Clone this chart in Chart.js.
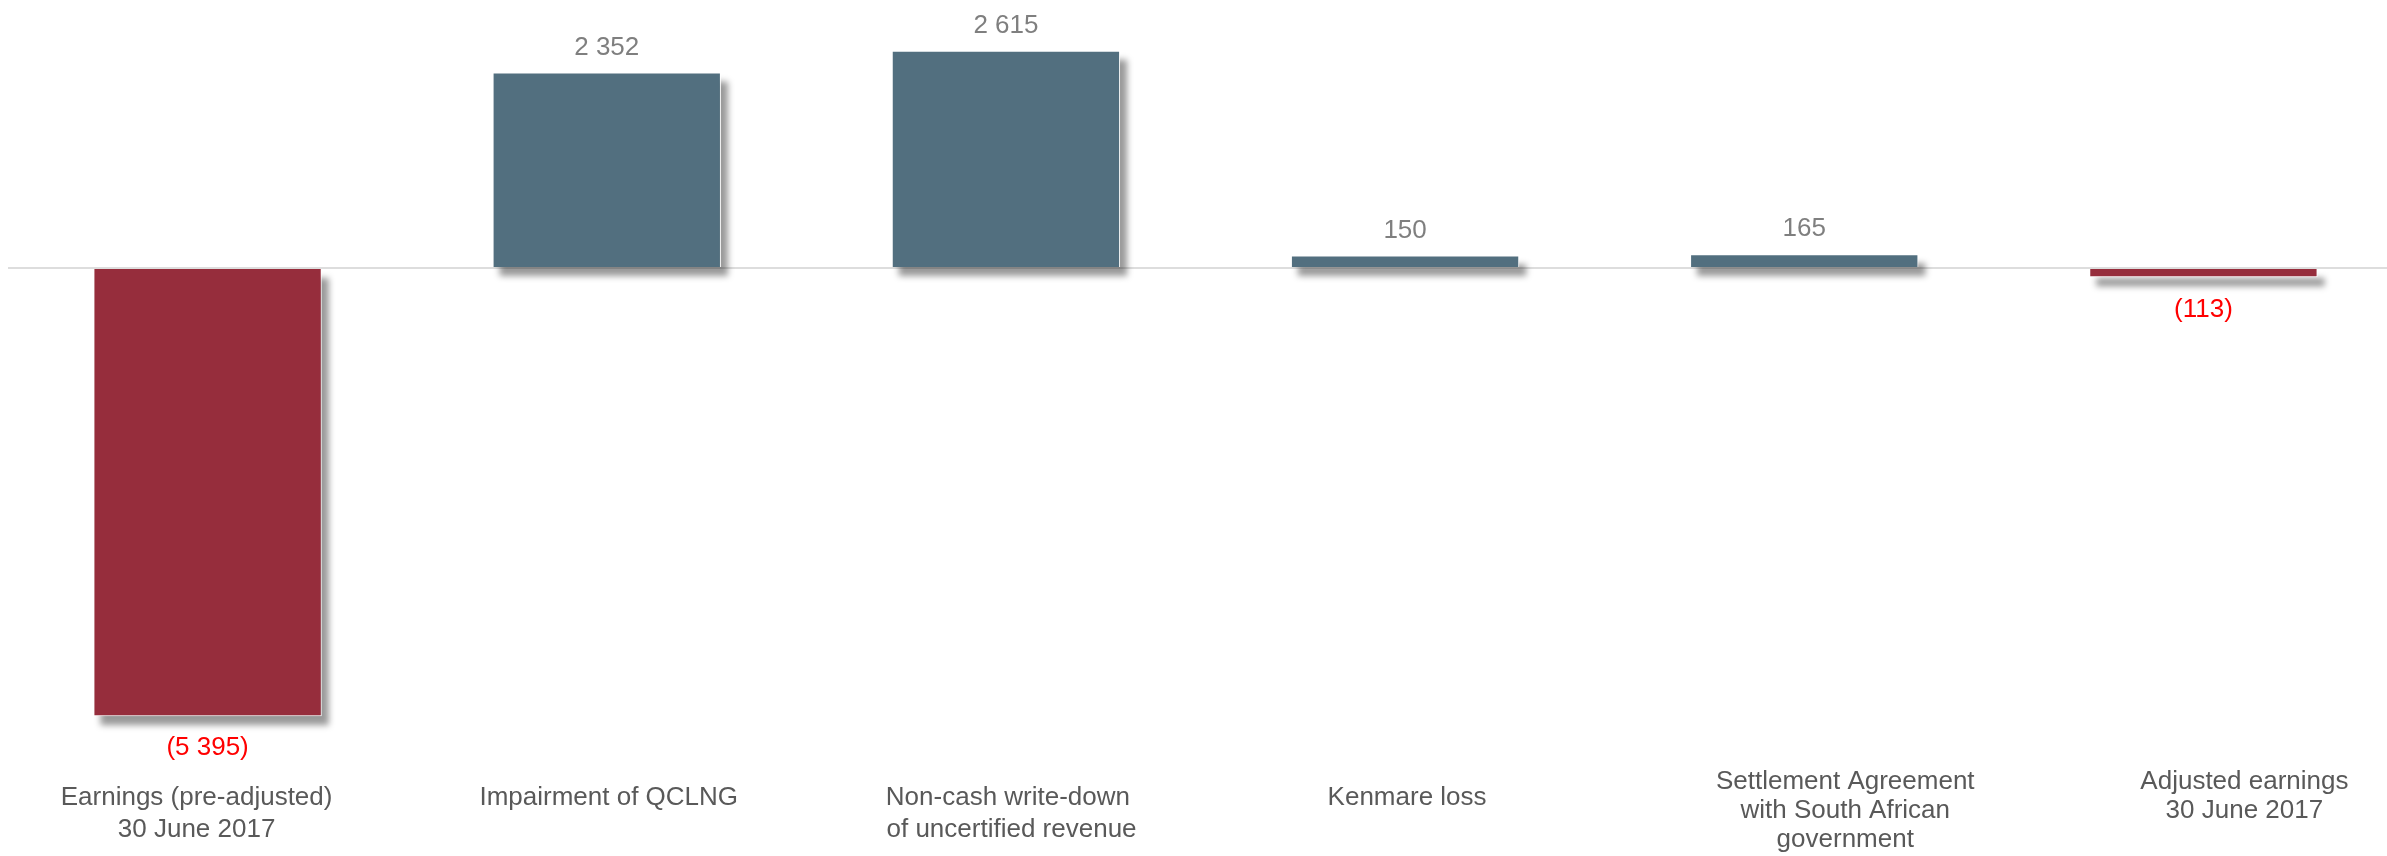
<!DOCTYPE html>
<html>
<head>
<meta charset="utf-8">
<script src="https://cdn.jsdelivr.net/npm/chart.js@4"></script>
<style>
  html, body { margin: 0; padding: 0; background: #fff; overflow: hidden; }
  #wrap { width: 2387px; height: 856px; overflow: hidden; }
</style>
</head>
<body>
<div id="wrap"><canvas id="myChart" width="2403" height="856"></canvas></div>
<script>
const categories = [
  ['Earnings (pre-adjusted)', '30 June 2017'],
  ['Impairment of QCLNG'],
  ['Non-cash write-down', ' of uncertified revenue'],
  ['Kenmare loss'],
  ['Settlement Agreement', 'with South African', 'government'],
  ['Adjusted earnings', '30 June 2017']
];
const values = [-5395, 2352, 2615, 150, 165, -113];
const barColors = ['#962d3c', '#526f7f', '#526f7f', '#526f7f', '#526f7f', '#962d3c'];

const fontFamily = '"Liberation Sans", Arial, sans-serif';

function fmt(v) {
  const s = Math.abs(v).toString().replace(/\B(?=(\d{3})+(?!\d))/g, ' ');
  return v < 0 ? '(' + s + ')' : s;
}

// bar shadows drawn under the bars
const shadowPlugin = {
  id: 'shadows',
  beforeDatasetsDraw(chart) {
    const ctx = chart.ctx;
    ctx.save();
    ctx.filter = 'blur(3px)';
    ctx.fillStyle = 'rgba(0,0,0,0.4)';
    chart.getDatasetMeta(0).data.forEach(bar => {
      const p = bar.getProps(['x', 'y', 'base', 'width'], true);
      const top = Math.min(p.y, p.base);
      const h = Math.abs(p.base - p.y);
      ctx.fillRect(p.x - p.width / 2 + 7, top + 9, p.width, h);
    });
    ctx.restore();
  }
};

// value labels above / below the bars
const valueLabels = {
  id: 'valueLabels',
  afterDatasetsDraw(chart) {
    const ctx = chart.ctx;
    ctx.save();
    ctx.font = '26px ' + fontFamily;
    ctx.textAlign = 'center';
    ctx.textBaseline = 'middle';
    chart.getDatasetMeta(0).data.forEach((bar, i) => {
      const v = values[i];
      if (v >= 0) {
        ctx.fillStyle = '#7f7f7f';
        ctx.fillText(fmt(v), bar.x, bar.y - 25);
      } else {
        ctx.fillStyle = '#ff0000';
        ctx.fillText(fmt(v), bar.x, bar.y + 32);
      }
    });
    ctx.restore();
  }
};

// category label axes; mirrored so they are not clipped to a zero-height box
function labelAxis(show, offset, pad, lh) {
  return {
    type: 'category',
    position: 'bottom',
    grid: { display: false, drawTicks: false },
    border: { display: false },
    afterFit(scale) { scale.height = 0; },
    ticks: {
      autoSkip: false,
      maxRotation: 0,
      minRotation: 0,
      mirror: true,
      labelOffset: offset,
      padding: pad,
      color: '#595959',
      font: { family: fontFamily, size: 26, lineHeight: lh },
      callback: function (v, i) {
        return show.includes(i) ? this.getLabelForValue(v) : '';
      }
    }
  };
}

const ctx = document.getElementById('myChart');

new Chart(ctx, {
  type: 'bar',
  data: {
    labels: categories,
    datasets: [{
      data: values,
      backgroundColor: barColors,
      borderColor: '#ffffff',
      borderWidth: 1,
      categoryPercentage: 1,
      barPercentage: 0.572
    }]
  },
  options: {
    responsive: false,
    animation: false,
    devicePixelRatio: 1,
    layout: { padding: { left: 8, right: 0, top: 0, bottom: 80 } },
    plugins: {
      legend: { display: false },
      tooltip: { enabled: false }
    },
    scales: {
      x: labelAxis([1, 2, 3], 2, -38, 1.22),
      x0: labelAxis([0], -11, -38, 1.22),
      x2: labelAxis([4, 5], 41, -20, 1.12),
      y: {
        min: -6115,
        max: 3225,
        afterFit(scale) { scale.width = 0; },
        afterBuildTicks(scale) { scale.ticks = [{ value: 0 }]; },
        ticks: { display: false },
        border: { display: false },
        grid: { drawTicks: false, color: '#dddddd', lineWidth: 2 }
      }
    }
  },
  plugins: [shadowPlugin, valueLabels]
});
</script>
</body>
</html>
